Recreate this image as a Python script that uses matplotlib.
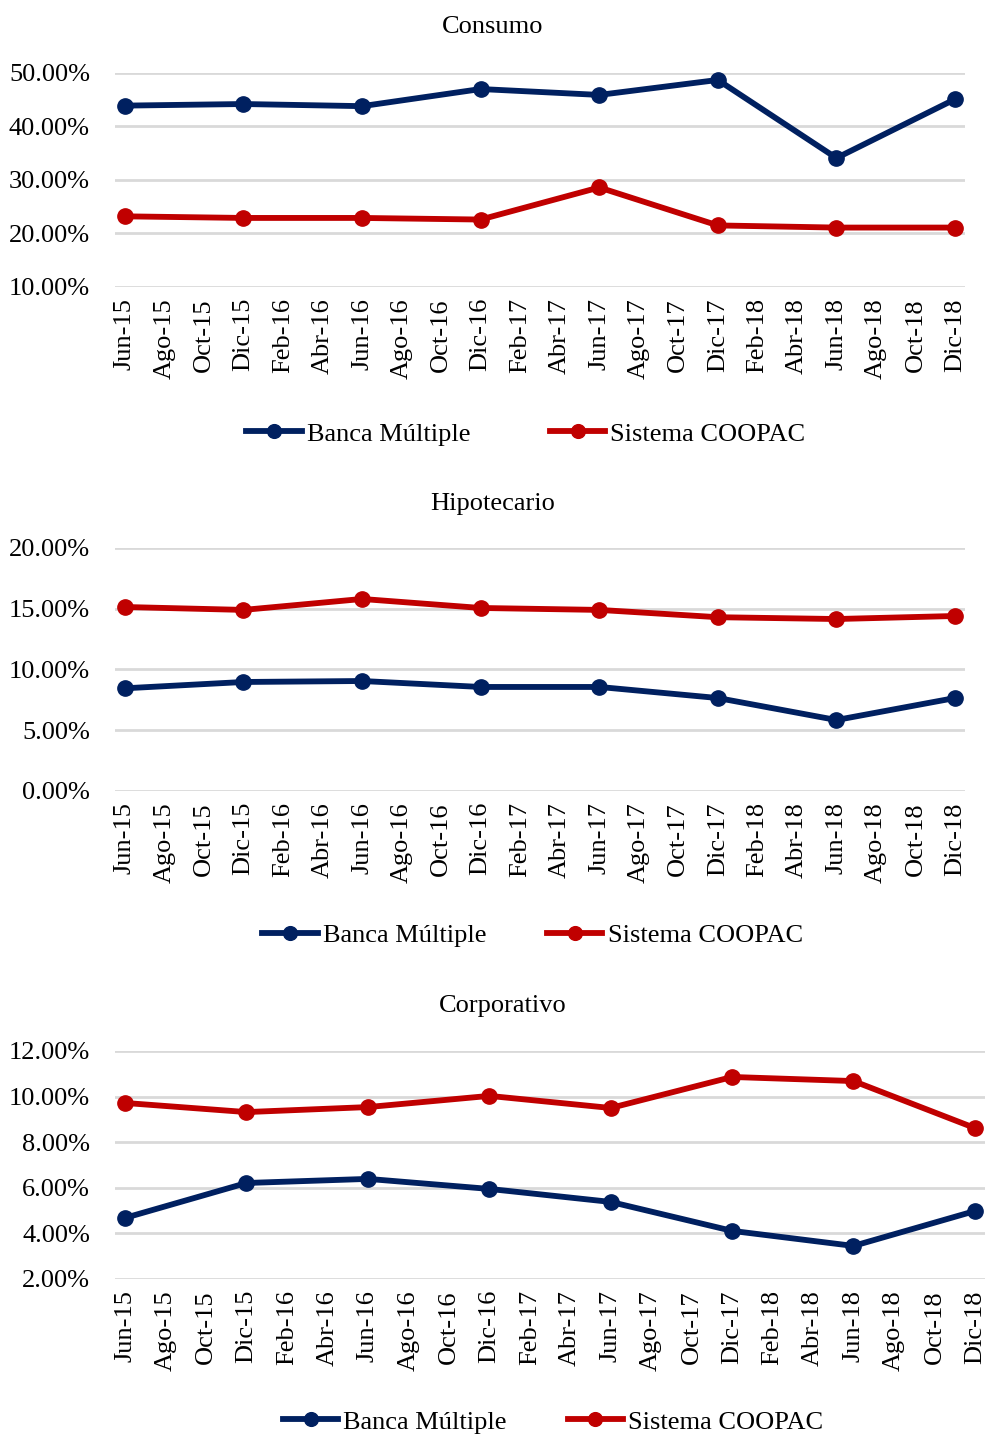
import numpy as np
import matplotlib
matplotlib.use('Agg')
import matplotlib.pyplot as plt
from matplotlib.ticker import PercentFormatter

plt.rcParams['font.family'] = ['Liberation Serif', 'DejaVu Serif']
plt.rcParams['font.size'] = 19

# categories on the x axis (every two months)
meses = ['Jun-15', 'Ago-15', 'Oct-15', 'Dic-15', 'Feb-16', 'Abr-16', 'Jun-16',
         'Ago-16', 'Oct-16', 'Dic-16', 'Feb-17', 'Abr-17', 'Jun-17', 'Ago-17',
         'Oct-17', 'Dic-17', 'Feb-18', 'Abr-18', 'Jun-18', 'Ago-18', 'Oct-18',
         'Dic-18']
# data exists only for June and December
fechas = ['Jun-15', 'Dic-15', 'Jun-16', 'Dic-16', 'Jun-17', 'Dic-17', 'Jun-18', 'Dic-18']

consumo_banca = [43.9, 44.2, 43.8, 47.0, 45.9, 48.7, 34.1, 45.1]
consumo_coopac = [23.2, 22.9, 22.9, 22.6, 28.6, 21.5, 21.1, 21.1]

hipo_banca = [8.45, 8.97, 9.05, 8.56, 8.56, 7.65, 5.84, 7.65]
hipo_coopac = [15.14, 14.9, 15.8, 15.06, 14.9, 14.3, 14.15, 14.4]

corp_banca = [4.68, 6.21, 6.39, 5.95, 5.38, 4.11, 3.45, 4.98]
corp_coopac = [9.72, 9.32, 9.54, 10.03, 9.5, 10.86, 10.68, 8.62]

NAVY = '#002060'
RED = '#C00000'
GRID = '#D9D9D9'

fig = plt.figure(figsize=(9.86, 14.34), dpi=100)

paneles = [
    # title, banca, coopac, ylim, step, axes rect, title pos, legend pos, colspacing
    ('Consumo', consumo_banca, consumo_coopac, (10, 50), 10,
     [0.1166, 0.7999, 0.862, 0.1492], (0.5, 0.9810), (0.5335, 0.6975), 3.0),
    ('Hipotecario', hipo_banca, hipo_coopac, (0, 20), 5,
     [0.1166, 0.4484, 0.862, 0.1695], (0.5, 0.6485), (0.540, 0.3475), 2.3),
    ('Corporativo', corp_banca, corp_coopac, (2, 12), 2,
     [0.1166, 0.1081, 0.8824, 0.1590], (0.51, 0.2985), (0.561, 0.0085), 2.3),
]

xpos = [meses.index(f) for f in fechas]

for titulo, banca, coopac, ylim, step, rect, tpos, lpos, cs in paneles:
    ax = fig.add_axes(rect)
    ax.plot(xpos, banca, color=NAVY, lw=4.2, marker='o', ms=11, label='Banca Múltiple',
            solid_joinstyle='round', zorder=3, clip_on=False)
    ax.plot(xpos, coopac, color=RED, lw=4.2, marker='o', ms=11, label='Sistema COOPAC',
            solid_joinstyle='round', zorder=3, clip_on=False)
    ax.set_xlim(-0.25, len(meses) - 0.75)
    ax.set_ylim(*ylim)
    ax.set_yticks(np.arange(ylim[0], ylim[1] + 0.01, step))
    ax.yaxis.set_major_formatter(PercentFormatter(xmax=100, decimals=2))
    ax.set_xticks(range(len(meses)))
    ax.set_xticklabels(meses, rotation=90)
    ax.tick_params(length=0)
    ax.tick_params(axis='y', pad=18)
    ax.tick_params(axis='x', pad=8)
    ax.grid(axis='y', color=GRID, lw=2)
    ax.set_axisbelow(True)
    for s in ax.spines.values():
        s.set_visible(False)
    fig.text(tpos[0], tpos[1], titulo, ha='center', va='center')
    fig.legend(handles=ax.lines, loc='center', bbox_to_anchor=lpos, ncol=2,
               frameon=False, handlelength=2.1, handletextpad=0.2,
               columnspacing=cs, markerscale=0.9)

plt.savefig('out.png', dpi=100)
plt.close()
